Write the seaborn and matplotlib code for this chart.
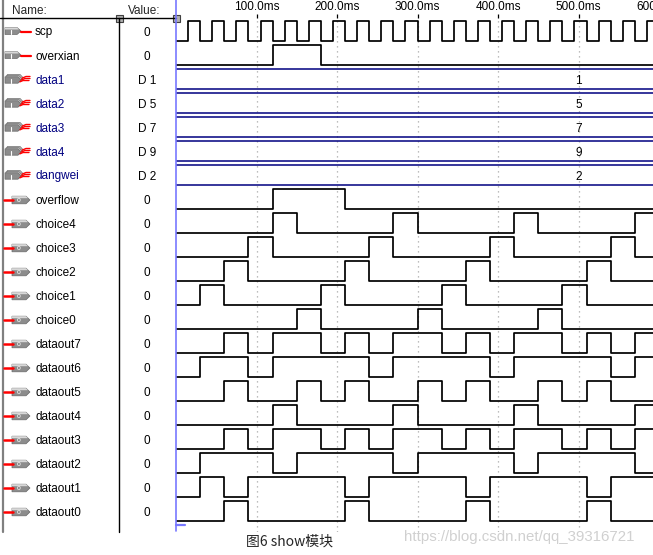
import matplotlib
matplotlib.use("Agg")
import matplotlib.pyplot as plt
import seaborn as sns
from matplotlib.patches import Polygon, Rectangle

sns.set_theme(style="white")
plt.rcParams["font.family"] = ["Liberation Sans", "DejaVu Sans"]

# ---------------- data ----------------
signal_names = ["scp", "overxian", "data1", "data2", "data3", "data4", "dangwei",
                "overflow", "choice4", "choice3", "choice2", "choice1", "choice0",
                "dataout7", "dataout6", "dataout5", "dataout4", "dataout3",
                "dataout2", "dataout1", "dataout0"]
signal_kinds = ["in", "in", "bus", "bus", "bus", "bus", "bus",
                "out", "out", "out", "out", "out", "out",
                "out", "out", "out", "out", "out", "out", "out", "out"]
signal_values = ["0", "0", "D 1", "D 5", "D 7", "D 9", "D 2",
                 "0", "0", "0", "0", "0", "0",
                 "0", "0", "0", "0", "0", "0", "0", "0"]
bus_names = ["data1", "data2", "data3", "data4", "dangwei"]
bus_data = ["1", "5", "7", "9", "2"]

tick_times = [100, 200, 300, 400, 500, 600]
tick_labels = ["100.0ms", "200.0ms", "300.0ms", "400.0ms", "500.0ms", "600.0ms"]

# transition times (ms); every signal starts low and toggles at each time
scp_edges = [15, 30, 45, 60, 75, 90, 105, 120, 135, 150, 165, 180, 195, 210,
             225, 240, 255, 270, 285, 300, 315, 330, 345, 360, 375, 390, 405,
             420, 435, 450, 465, 480, 495, 510, 525, 540, 555, 570, 585]
overxian_edges = [120, 180]
overflow_edges = [120, 210]
choice4_edges = [120, 150, 270, 300, 420, 450, 570]
choice3_edges = [90, 120, 240, 270, 390, 420, 540, 570]
choice2_edges = [60, 90, 210, 240, 360, 390, 510, 540]
choice1_edges = [30, 60, 180, 210, 330, 360, 480, 510]
choice0_edges = [150, 180, 300, 330, 450, 480]
dataout7_edges = [60, 90, 120, 180, 210, 240, 270, 330, 360, 390, 420, 480, 510, 540, 570]
dataout6_edges = [30, 90, 120, 240, 270, 390, 420, 540, 570]
dataout5_edges = [60, 90, 150, 180, 210, 240, 300, 330, 360, 390, 450, 480, 510, 540]
dataout4_edges = [120, 150, 270, 300, 420, 450, 570]
dataout3_edges = [60, 90, 120, 180, 210, 240, 270, 330, 360, 390, 420, 480, 510, 540, 570]
dataout2_edges = [30, 120, 150, 270, 300, 420, 450, 570]
dataout1_edges = [30, 60, 90, 210, 240, 360, 390, 510, 540]
dataout0_edges = [60, 90, 210, 240, 360, 390, 510, 540]

signal_edges = {
    "scp": scp_edges, "overxian": overxian_edges, "overflow": overflow_edges,
    "choice4": choice4_edges, "choice3": choice3_edges, "choice2": choice2_edges,
    "choice1": choice1_edges, "choice0": choice0_edges,
    "dataout7": dataout7_edges, "dataout6": dataout6_edges,
    "dataout5": dataout5_edges, "dataout4": dataout4_edges,
    "dataout3": dataout3_edges, "dataout2": dataout2_edges,
    "dataout1": dataout1_edges, "dataout0": dataout0_edges,
}

T_END = 601
caption = "图6 show模块"
watermark = "https://blog.csdn.net/qq_39316721"

# ---------------- layout ----------------
W, H = 653, 555
X0 = 176          # pixel x of t=0
PX_MS = 0.805     # pixels per ms
ROW0 = 31         # pixel y of first row centre
ROW_H = 24
TOP, BOT = 18, 532
HALF = 10 / 24    # half amplitude of a waveform in row units
NAVY = "#000080"
BLUE = "#7878ff"
TXT_DY = 1.5      # text baseline nudge (px)

fig = plt.figure(figsize=(W / 100, H / 100), dpi=100, facecolor="white")

bg = fig.add_axes([0, 0, 1, 1])
bg.set_xlim(0, W)
bg.set_ylim(H, 0)
bg.axis("off")
bg.patch.set_visible(False)
bg.set_zorder(2)

ax_w = T_END * PX_MS
ax = fig.add_axes([X0 / W, (H - BOT) / H, ax_w / W, (BOT - TOP) / H])
ax.set_zorder(1)
ax.set_xlim(0, T_END)
ax.set_ylim((BOT - ROW0) / ROW_H, (TOP - ROW0) / ROW_H)
for s in ax.spines.values():
    s.set_visible(False)
ax.set_yticks([])
ax.set_xticks(tick_times)
ax.set_xticklabels(tick_labels)
ax.xaxis.tick_top()
ax.tick_params(axis="x", top=True, bottom=False, labeltop=True, labelbottom=False,
               length=3, width=0.9, pad=0.5, direction="out", labelsize=8.5,
               colors="black")
ax.grid(True, axis="x", color="#a8a8a8", linestyle=(0, (1, 3)), linewidth=0.9)
ax.grid(False, axis="y")
ax.set_axisbelow(True)
ax.set_xlabel("")
ax.set_ylabel("")

# ---------------- waveforms ----------------
for i, name in enumerate(signal_names):
    kind = signal_kinds[i]
    if kind == "bus":
        for yy in (i - HALF, i + HALF):
            sns.lineplot(x=[0, T_END], y=[yy, yy], color=NAVY, linewidth=1.1,
                         estimator=None, ax=ax, legend=False)
        ax.text(500, i + TXT_DY / ROW_H, bus_data[bus_names.index(name)], ha="center",
                va="center", fontsize=8.5, color="black")
    else:
        edges = signal_edges[name]
        xs = [0] + edges + [T_END]
        levels = [k % 2 for k in range(len(edges) + 1)]
        levels = levels + [levels[-1]]
        ys = [i + HALF - 2 * HALF * lv for lv in levels]
        sns.lineplot(x=xs, y=ys, drawstyle="steps-post", color="black",
                     linewidth=1.25, estimator=None, sort=False, ax=ax, legend=False)

# ---------------- left panel ----------------
def row_y(i):
    return ROW0 + ROW_H * i

# frame lines
bg.plot([3.2, 3.2], [0, BOT], color="#808080", lw=1.6)
bg.plot([0, X0], [TOP, TOP], color="black", lw=1.0)
bg.plot([119, 119], [TOP, BOT], color="black", lw=1.0)
bg.plot([X0, X0], [0, BOT - 1], color=BLUE, lw=1.2)
bg.plot([X0, X0 + 9], [524.5, 524.5], color=BLUE, lw=1.6)
for hx in (119, X0):
    bg.add_patch(Rectangle((hx - 3.5, TOP - 3.5), 7, 7, facecolor="#b0b0b0",
                           edgecolor="#404040", lw=0.8))

bg.text(12, 9 + TXT_DY, "Name:", fontsize=8.5, va="center", ha="left")
bg.text(144, 9 + TXT_DY, "Value:", fontsize=8.5, va="center", ha="center")


def input_icon(y):
    body = Polygon([[5, y - 3.5], [17, y - 3.5], [21, y], [17, y + 3.5], [5, y + 3.5]],
                   closed=True, facecolor="#8c8c8c", edgecolor="#6a6a6a", lw=0.5)
    bg.add_patch(body)
    bg.add_patch(Polygon([[5, y - 3.5], [17, y - 3.5], [19, y - 1.5], [5, y - 1.5]],
                         closed=True, facecolor="#d8d8d8", edgecolor="none"))
    bg.plot([11, 11], [y - 1, y + 3], color="white", lw=0.8)
    bg.plot([21, 31], [y + 0.6, y + 0.6], color="#ff0000", lw=1.6)


def bus_icon(y):
    for k, off in enumerate([2.2, 1.1, 0.0]):
        yy = y + 1.0 - off
        xx = 5 + off
        bg.add_patch(Polygon([[xx, yy - 3.2], [xx + 13, yy - 3.2], [xx + 16, yy],
                              [xx + 13, yy + 3.2], [xx, yy + 3.2]], closed=True,
                             facecolor="#8c8c8c" if k == 2 else "#c8c8c8",
                             edgecolor="#6a6a6a", lw=0.5))
    bg.plot([10.5, 10.5], [y, y + 3.5], color="white", lw=0.8)
    bg.plot([21, 25, 30], [y + 1.2, y - 0.5, y - 0.5], color="#ff0000", lw=1.0)
    bg.plot([22, 26, 30], [y - 0.8, y - 2.5, y - 2.5], color="#ff0000", lw=1.0)
    bg.plot([20, 23, 29], [y + 2.8, y + 1.5, y + 1.5], color="#ff0000", lw=1.0)


def output_icon(y):
    bg.plot([3.5, 12.5], [y + 1, y + 1], color="#ff0000", lw=1.8)
    bg.add_patch(Polygon([[12, y - 2.8], [26, y - 2.8], [30, y + 1], [26, y + 4.8],
                          [12, y + 4.8]], closed=True, facecolor="#8c8c8c",
                         edgecolor="#6a6a6a", lw=0.5))
    bg.add_patch(Polygon([[12, y - 2.8], [26, y - 2.8], [28, y - 0.8], [12, y - 0.8]],
                         closed=True, facecolor="#d8d8d8", edgecolor="none"))
    bg.text(18.5, y + 1.3, "o", fontsize=5, color="white", ha="center", va="center")


for i, name in enumerate(signal_names):
    y = row_y(i)
    kind = signal_kinds[i]
    if kind == "in":
        input_icon(y)
    elif kind == "bus":
        bus_icon(y)
    else:
        output_icon(y)
    bg.text(35, y + TXT_DY, name, fontsize=8.5, va="center", ha="left",
            color=NAVY if kind == "bus" else "black")
    bg.text(147, y + TXT_DY, signal_values[i], fontsize=8.5, va="center", ha="center",
            color="black")

bg.text(290, 542, caption, fontsize=10, va="center", ha="center",
        family=["Noto Sans CJK SC", "DejaVu Sans"])
bg.text(519, 537, watermark, fontsize=10.8, va="center", ha="center",
        color="#d0d0d0")

fig.savefig("out.png", dpi=100, facecolor="white")
